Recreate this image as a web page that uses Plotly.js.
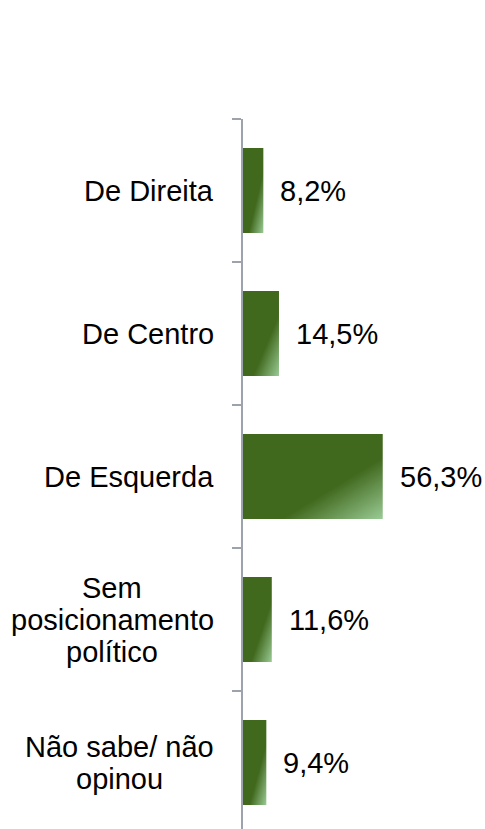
<!DOCTYPE html>
<html>
<head>
<meta charset="utf-8">
<script src="https://cdn.plot.ly/plotly-3.0.1.min.js"></script>
<style>
html,body{margin:0;padding:0;background:#fff;overflow:hidden;}
#chart{width:485px;height:834px;}
</style>
</head>
<body>
<div id="chart"></div>
<script>
var categories = ["De Direita", "De Centro", "De Esquerda", "Sem<br>posicionamento<br>político", "Não sabe/ não<br>opinou"];
var values = [8.2, 14.5, 56.3, 11.6, 9.4];
var valueLabels = ["8,2%", "14,5%", "56,3%", "11,6%", "9,4%"];

var FONT = "Liberation Sans, Arial, sans-serif";
var CAT_SIZE = 29, VAL_SIZE = 29, LINE_H = 32;
var axisColor = "#9ca3ad";

var trace = {
  type: "bar",
  orientation: "h",
  x: values,
  y: categories,
  marker: {color: "#41691e", line: {width: 0}},
  hoverinfo: "none"
};

var ctx = document.createElement("canvas").getContext("2d");
ctx.font = CAT_SIZE + "px 'Liberation Sans'";

var annotations = [];
categories.forEach(function(c, i){
  var lines = c.split("<br>");
  var widths = lines.map(function(t){ return ctx.measureText(t).width; });
  var block = Math.max.apply(null, widths);
  var n = lines.length;
  lines.forEach(function(t, k){
    annotations.push({
      xref: "paper", yref: "y", x: 0, y: c,
      xanchor: "right", yanchor: "middle",
      xshift: -27 - (block - widths[k]) / 2,
      yshift: ((n - 1) / 2 - k) * LINE_H,
      showarrow: false,
      text: t, font: {family: FONT, size: CAT_SIZE, color: "#000"}
    });
  });
  annotations.push({
    xref: "x", yref: "y", x: values[i], y: c,
    xanchor: "left", yanchor: "middle", xshift: 15,
    showarrow: false,
    text: valueLabels[i], font: {family: FONT, size: VAL_SIZE, color: "#000"}
  });
});

var layout = {
  width: 485, height: 834,
  margin: {l: 243, r: 0, t: 119, b: 0},
  paper_bgcolor: "#fff", plot_bgcolor: "#fff",
  showlegend: false,
  bargap: 0.405,
  xaxis: {range: [0, 97.5], visible: false, fixedrange: true},
  yaxis: {
    type: "category", autorange: "reversed",
    showline: true, linecolor: axisColor, linewidth: 2,
    ticks: "outside", ticklen: 9, tickwidth: 2, tickcolor: axisColor,
    tickson: "boundaries", showticklabels: false, showgrid: false,
    zeroline: false, fixedrange: true
  },
  annotations: annotations
};

Plotly.newPlot("chart", [trace], layout, {staticPlot: true, displayModeBar: false}).then(function(gd){
  var svg = gd.querySelector("svg.main-svg");
  var defs = svg.querySelector("defs");
  var ns = "http://www.w3.org/2000/svg";
  var grad = document.createElementNS(ns, "linearGradient");
  grad.setAttribute("id", "barGrad");
  grad.setAttribute("x1", "0"); grad.setAttribute("y1", "0");
  grad.setAttribute("x2", "1"); grad.setAttribute("y2", "1");
  [["0", "#41691e"], ["0.64", "#41691e"], ["1", "#9acb95"]].forEach(function(s){
    var st = document.createElementNS(ns, "stop");
    st.setAttribute("offset", s[0]);
    st.setAttribute("stop-color", s[1]);
    grad.appendChild(st);
  });
  defs.appendChild(grad);
  gd.querySelectorAll(".barlayer .point path").forEach(function(p){
    p.style.fill = "url(#barGrad)";
  });
});
</script>
</body>
</html>
